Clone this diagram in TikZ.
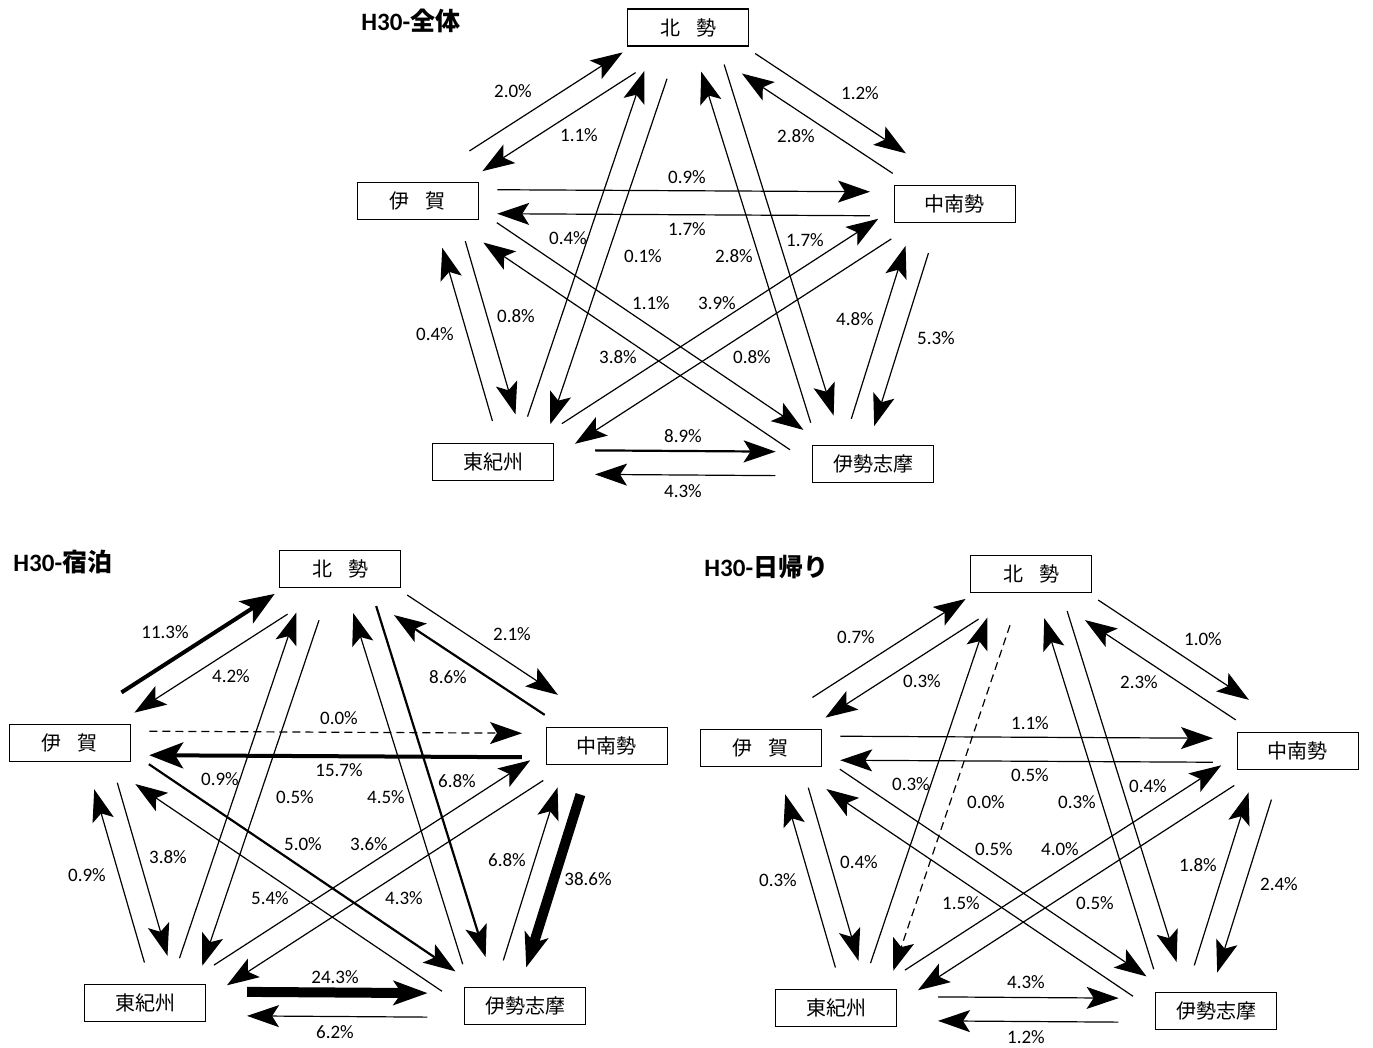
\documentclass[tikz,border=0pt]{standalone}
\usepackage{fontspec}
\setmainfont{Carlito}
\newfontfamily\jp{Noto Sans CJK JP}
\usetikzlibrary{calc, arrows.meta}

\tikzset{
  area/.style={
    rectangle, draw, line width=0.6pt, minimum width=60.5pt, minimum height=18.5pt,
    inner sep=0pt, outer sep=0pt, font=\jp\fontsize{10}{12}\selectfont
  },
  pct/.style={inner sep=0pt, font=\fontsize{9.5}{11}\selectfont},
  heading/.style={anchor=west, inner sep=0pt, font=\bfseries\fontsize{12.5}{15}\selectfont},
  flow/.style={line width=0.6pt, -{Stealth[length=16pt, width=11pt, inset=3.5pt]}},
  flowmid/.style={line width=1.1pt},
  flowbig/.style={line width=2pt, -{Stealth[length=17pt, width=13pt, inset=4pt]}},
  flowmax/.style={line width=5pt, -{Stealth[length=17pt, width=12pt, inset=4pt]}}
}

% two opposite arrows beside the line from #1#3 to #2#4
\newcommand\lanegap{6pt}
\newcommand\lanes[7]{%
  \draw[flow, #1-#2/.try]
    ($(#1#3)!#5!(#2#4)!{\lanegap+(#7)}!90:(#2#4)$) --
    ($(#1#3)!#6!(#2#4)!{\lanegap+(#7)}!90:(#2#4)$);
  \draw[flow, #2-#1/.try]
    ($(#1#3)!#6!(#2#4)!{(#7)-\lanegap}!90:(#2#4)$) --
    ($(#1#3)!#5!(#2#4)!{(#7)-\lanegap}!90:(#2#4)$);
}

% one region diagram: #1 title, #2 percentages
\newcommand\region[2]{%
  \node[heading] (title) at (361,21) {H30-{\jp #1}};
  \node[area] (hok) at (688,27.5) {北\hspace{0.8em}勢};
  \node[area] (iga) at (417.8,201.3) {伊\hspace{0.8em}賀};
  \node[area] (chu) at (954.8,204.2) {中南勢};
  \node[area] (hig) at (493.3,461.7) {東紀州};
  \node[area] (ise) at (873.2,464.3) {伊勢志摩};
  % outer ring
  \lanes{iga}{hok}{}{}{0.22}{0.787}{1.2pt}
  \lanes{hok}{chu}{}{}{0.22}{0.785}{1.7pt}
  \lanes{iga}{chu}{}{}{0.148}{0.842}{0pt}
  \lanes{hig}{ise}{}{}{0.268}{0.743}{0pt}
  \lanes{iga}{hig}{}{}{0.19}{0.855}{11.25pt}
  \lanes{chu}{ise}{}{}{0.2}{0.865}{-11.25pt}
  % diagonals
  \lanes{hok}{hig}{.south}{.north east}{0.09}{0.96}{-10.7pt}
  \lanes{hok}{ise}{.south}{.north west}{0.068}{0.946}{8.5pt}
  \lanes{iga}{ise}{.south east}{.north west}{0.042}{0.959}{-2pt}
  \lanes{hig}{chu}{.north east}{.south west}{0.043}{0.972}{0pt}
  % percentages
  \foreach \x/\y [count=\i] in {513/91, 579/135, 860/93, 796/136, 687/177,
      687/229, 568/238, 643/256, 734/256, 805/240, 651/303, 717/303,
      618/357, 752/357, 435/334, 516/316, 855/319, 936/338, 683/436, 683/491}
    \coordinate (p\i) at (\x,\y);
  \foreach \val [count=\i] in {#2}
    \node[pct] (lab\i) at (p\i) {\val\%};
}

\begin{document}
\begin{tikzpicture}[x=0.5pt, y=-0.5pt]
\path[use as bounding box, fill=white] (0,0) rectangle (1373,1048);

% H30 all trips
\begin{scope}[name prefix=A-, hig-ise/.style=flowmid]
  \region{全体}{2.0, 1.1, 1.2, 2.8, 0.9, 1.7, 0.4, 0.1, 2.8, 1.7,
    1.1, 3.9, 3.8, 0.8, 0.4, 0.8, 4.8, 5.3, 8.9, 4.3}
\end{scope}

% H30 overnight
\begin{scope}[shift={(-348,541.5)}, name prefix=B-,
    iga-hok/.style=flowbig, chu-hok/.style=flowmid,
    iga-chu/.style={dashed, dash pattern=on 4pt off 2.5pt},
    chu-iga/.style=flowbig, hig-ise/.style=flowmax, chu-ise/.style=flowmax,
    hok-ise/.style=flowmid, iga-ise/.style=flowmid]
  \region{宿泊}{11.3, 4.2, 2.1, 8.6, 0.0, 15.7, 0.9, 0.5, 4.5, 6.8,
    5.0, 3.6, 5.4, 4.3, 0.9, 3.8, 6.8, 38.6, 24.3, 6.2}
\end{scope}

% H30 day trips
\begin{scope}[shift={(343,546.5)}, name prefix=C-,
    hok-hig/.style={dashed, dash pattern=on 4pt off 2.5pt}]
  \region{日帰り}{0.7, 0.3, 1.0, 2.3, 1.1, 0.5, 0.3, 0.0, 0.3, 0.4,
    0.5, 4.0, 1.5, 0.5, 0.3, 0.4, 1.8, 2.4, 4.3, 1.2}
\end{scope}
\end{tikzpicture}
\end{document}
